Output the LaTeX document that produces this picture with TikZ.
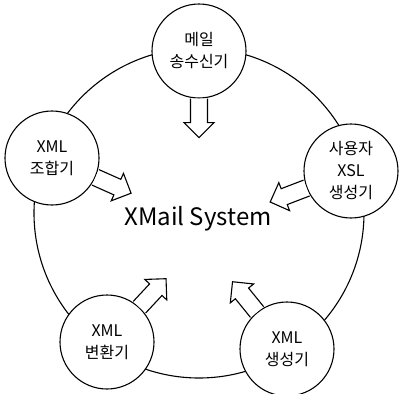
\documentclass[tikz,border=0pt]{standalone}
\usepackage{fontspec}
\setmainfont{Noto Sans CJK KR}
\begin{document}
\begin{tikzpicture}[x=1pt,y=-1pt,line width=1.1pt,
  unit/.style={circle,draw,fill=white,minimum size=94pt,inner sep=0pt,align=center,font=\fontsize{16}{22}\selectfont},
  blockarrow/.style={draw,fill=white,line join=miter}]
\useasboundingbox (0,0) rectangle (400,394);
\node[circle,draw,minimum size=330pt,inner sep=0pt] (sys) at (199,213) {};
\node[font=\fontsize{24}{28}\selectfont] (title) at (198,219) {XMail System};
\node[unit] (mail) at (199,51) {메일\\송수신기};
\node[unit] (comb) at (52,158) {XML\\조합기};
\node[unit] (xsl) at (351,171) {사용자\\XSL\\생성기};
\node[unit] (conv) at (107,342) {XML\\변환기};
\node[unit] (gen) at (287,349) {XML\\생성기};
\foreach \n/\a in {mail/-90,comb/-24,xsl/-159,conv/47,gen/129}{
  \begin{scope}[shift={(\n.\a)},rotate=\a]
    \draw[blockarrow] (0,-8.5) -- (24,-8.5) -- (24,-15) -- (39,0) -- (24,15) -- (24,8.5) -- (0,8.5);
  \end{scope}
}
\end{tikzpicture}
\end{document}
